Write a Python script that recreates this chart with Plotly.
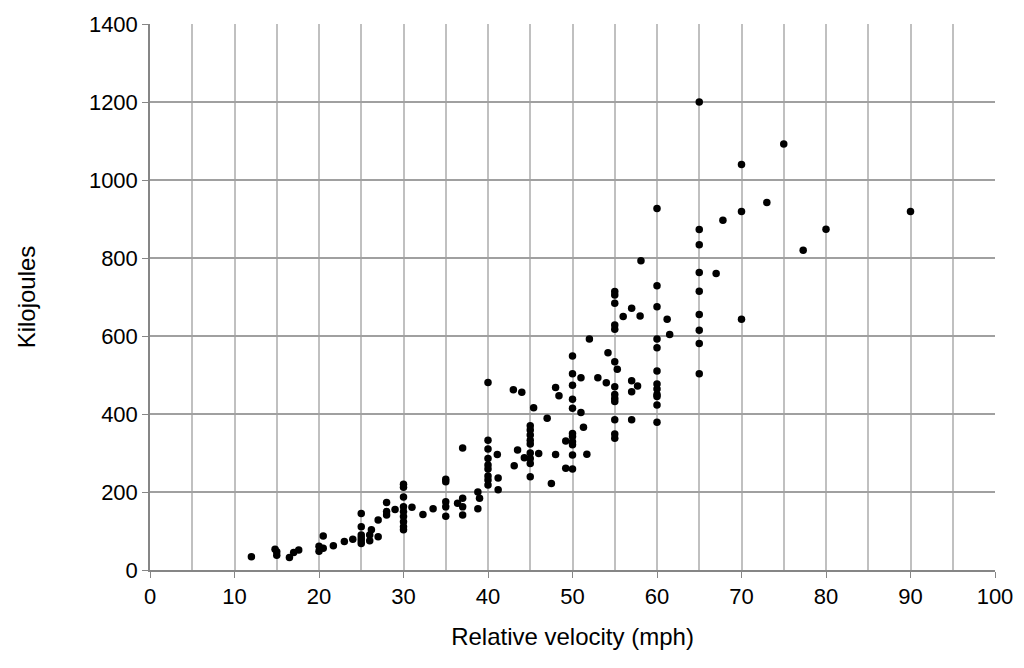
import plotly.graph_objects as go

# Relative velocity (mph)
velocity = [
    12, 14.8, 15, 15, 16.5, 17, 17.6, 20, 20, 20.5, 20.5, 21.7, 23, 24,
    25, 25, 25, 25, 25, 25, 26, 26, 26.2, 27, 27, 28, 28, 28, 29,
    30, 30, 30, 30, 30, 30, 30, 30, 30, 31, 32.3, 33.5,
    35, 35, 35, 35, 35, 36.4, 37, 37, 37, 37, 38.8, 39, 38.8,
    40, 40, 40, 40, 40, 40, 40, 40, 40, 41.1, 41.2, 41.2, 43, 43.5, 43.1, 44, 44.3,
    45, 45, 45, 45, 45, 45, 45, 45, 45, 45.4, 46, 47, 47.5, 48, 48.4, 48, 49.2, 49.2,
    50, 50, 50, 50, 50, 50, 50, 50, 50, 50, 50,
    51, 51, 51.3, 51.7, 52, 53, 54.2, 54,
    55, 55, 55, 55, 55, 55, 55.3, 55, 55, 55, 55, 55, 55, 55,
    56, 57, 58, 57, 57.7, 57, 57, 58.1,
    60, 60, 60, 60, 60, 60, 60, 60, 60, 60, 60, 60, 61.2, 61.5,
    65, 65, 65, 65, 65, 65, 65, 65, 65,
    67, 67.8, 70, 70, 70, 73, 75, 77.3, 80, 90,
]

# Energy (kJ)
kilojoules = [
    34, 53, 47, 38, 32, 45, 51, 61, 48, 56, 87, 62, 73, 79,
    68, 75, 82, 90, 111, 145, 75, 90, 103, 85, 128, 141, 150, 173, 155,
    220, 212, 187, 162, 150, 137, 124, 111, 103, 161, 142, 157,
    233, 226, 175, 162, 138, 171, 313, 184, 162, 141, 200, 184, 157,
    481, 333, 310, 286, 269, 259, 241, 231, 218, 296, 236, 206, 462, 308, 267, 456, 288,
    370, 359, 346, 333, 323, 300, 286, 273, 239, 416, 299, 389, 222, 468, 447, 296, 331, 261,
    549, 503, 474, 438, 415, 350, 342, 329, 321, 295, 259,
    404, 493, 366, 297, 592, 493, 557, 480,
    714, 705, 684, 628, 617, 534, 515, 470, 450, 440, 432, 385, 349, 338,
    650, 671, 651, 485, 472, 457, 385, 793,
    927, 729, 675, 592, 570, 510, 477, 464, 450, 423, 379, 445, 643, 604,
    1200, 873, 834, 763, 715, 655, 615, 581, 503,
    760, 897, 1040, 919, 643, 942, 1092, 820, 874, 919,
]

x_ticks = [0, 10, 20, 30, 40, 50, 60, 70, 80, 90, 100]
y_ticks = [0, 200, 400, 600, 800, 1000, 1200, 1400]

fig = go.Figure()
fig.add_trace(go.Scatter(
    x=velocity, y=kilojoules, mode="markers",
    marker=dict(color="black", size=7.5, line=dict(width=0)),
    showlegend=False,
))

font_family = "Liberation Sans, Arial, sans-serif"

fig.update_layout(
    width=1024, height=668,
    margin=dict(l=142, r=37, t=16, b=106),
    paper_bgcolor="white", plot_bgcolor="white",
    font=dict(family=font_family, size=22, color="black"),
    xaxis=dict(
        range=[0, 100], tickvals=x_ticks, ticktext=[str(v) for v in x_ticks],
        showgrid=True, gridcolor="#c0c0c0", gridwidth=1.5,
        minor=dict(dtick=5, showgrid=True, gridcolor="#c0c0c0", gridwidth=1.5),
        showline=True, linecolor="#868686", linewidth=1.5,
        ticks="outside", ticklen=6, tickcolor="#868686",
        zeroline=False,
        title=dict(text="Relative velocity (mph)", font=dict(size=24), standoff=20),
        tickfont=dict(size=22),
        automargin=False,
    ),
    yaxis=dict(
        range=[0, 1400], tickvals=y_ticks, ticktext=[str(v) for v in y_ticks],
        showgrid=True, gridcolor="#a0a0a0", gridwidth=1.5,
        showline=True, linecolor="#868686", linewidth=1.5,
        ticks="outside", ticklen=6, tickcolor="#868686",
        zeroline=False,
        title=dict(text="Kilojoules", font=dict(size=24), standoff=46),
        tickfont=dict(size=22),
        automargin=False,
    ),
)

fig.write_html("out.html")
